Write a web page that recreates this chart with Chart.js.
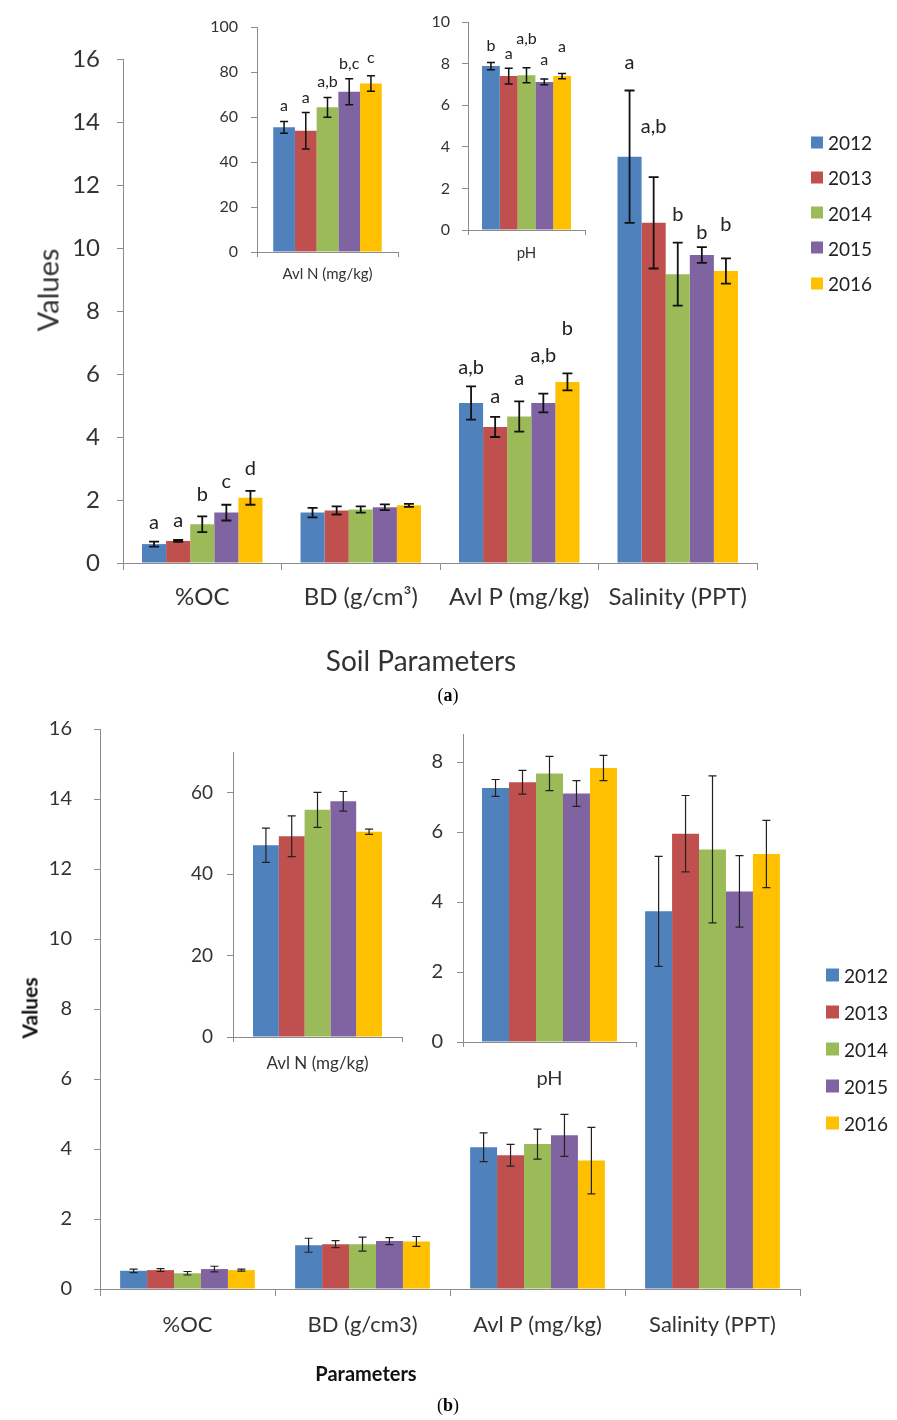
<!DOCTYPE html>
<html>
<head>
<meta charset="utf-8">
<script src="https://cdn.jsdelivr.net/npm/chart.js@4.4.0/dist/chart.umd.min.js"></script>
<style>
  html, body { margin: 0; padding: 0; background: #fff; }
  #page { position: relative; width: 897px; height: 1420px; overflow: hidden;
          font-family: Lato, "Open Sans", sans-serif; color: #333; }
  canvas { position: absolute; }
  .t { position: absolute; white-space: nowrap; transform: translate(-50%, -50%); }
  .rot { transform: translate(-50%, -50%) rotate(-90deg); }
  .cap { font-family: "Liberation Serif", serif; font-size: 18px; color: #000; }
  .leg { position: absolute; display: flex; align-items: center; color: #222; transform: translateY(-50%); }
  .leg span { display: inline-block; }
</style>
</head>
<body>
<div id="page">
  <canvas id="aMain"></canvas>
  <canvas id="aN"></canvas>
  <canvas id="aPh"></canvas>
  <canvas id="bMain"></canvas>
  <canvas id="bN"></canvas>
  <canvas id="bPh"></canvas>

  <div class="t rot" style="left:47px;top:290px;font-size:29px;">Values</div>
  <div class="t" style="left:421px;top:660px;font-size:28px;">Soil Parameters</div>
  <div class="t cap" style="left:448px;top:695px;">(<b>a</b>)</div>

  <div class="t rot" style="left:29px;top:1008px;font-size:21px;font-weight:bold;color:#111;">Values</div>
  <div class="t" style="left:366px;top:1373px;font-size:20px;font-weight:bold;color:#111;">Parameters</div>
  <div class="t cap" style="left:448px;top:1405px;">(<b>b</b>)</div>

  <div id="legA"></div>
  <div id="legB"></div>
</div>

<script>
const $ = (id) => document.getElementById(id);

const YEARS = ['2012', '2013', '2014', '2015', '2016'];
const YEAR_COLORS = ['#4F81BD', '#C0504D', '#9BBB59', '#8064A2', '#FFC000'];

// panel (a), main chart — rows are years, columns are categories
const A_CATS = ['%OC', 'BD (g/cm³)', 'Avl P (mg/kg)', 'Salinity (PPT)'];
const A_VALUES = [
  [0.60, 1.60, 5.08, 12.90],
  [0.70, 1.67, 4.32, 10.80],
  [1.23, 1.70, 4.65, 9.17],
  [1.60, 1.77, 5.08, 9.78],
  [2.07, 1.83, 5.75, 9.27],
];
const A_ERRORS = [
  [0.08, 0.15, 0.53, 2.10],
  [0.03, 0.13, 0.32, 1.45],
  [0.25, 0.10, 0.48, 1.00],
  [0.25, 0.09, 0.30, 0.25],
  [0.22, 0.05, 0.27, 0.40],
];
const A_LETTERS = [
  ['a', '', 'a,b', 'a'],
  ['a', '', 'a', 'a,b'],
  ['b', '', 'a', 'b'],
  ['c', '', 'a,b', 'b'],
  ['d', '', 'b', 'b'],
];
// height (in axis units) at which each letter sits
const A_LETTER_AT = [
  [1.28, 0, 6.19, 15.88],
  [1.36, 0, 5.27, 13.87],
  [2.16, 0, 5.87, 11.05],
  [2.58, 0, 6.60, 10.49],
  [3.00, 0, 7.43, 10.75],
];

// panel (a), insets
const A_N_VALUES = [55.4, 53.9, 64.3, 71.2, 74.9];
const A_N_ERRORS = [2.6, 8.1, 4.4, 5.8, 3.4];
const A_N_LETTERS = ['a', 'a', 'a,b', 'b,c', 'c'];
const A_N_LETTER_AT = [64.8, 68.7, 75.6, 83.5, 86.4];

const A_PH_VALUES = [7.88, 7.40, 7.44, 7.12, 7.40];
const A_PH_ERRORS = [0.17, 0.38, 0.36, 0.14, 0.13];
const A_PH_LETTERS = ['b', 'a', 'a,b', 'a', 'a'];
const A_PH_LETTER_AT = [8.85, 8.49, 9.20, 8.17, 8.81];

// panel (b), main chart
const B_CATS = ['%OC', 'BD (g/cm3)', 'Avl P (mg/kg)', 'Salinity (PPT)'];
const B_VALUES = [
  [0.52, 1.25, 4.05, 10.79],
  [0.54, 1.28, 3.82, 13.01],
  [0.45, 1.28, 4.14, 12.56],
  [0.57, 1.37, 4.39, 11.36],
  [0.54, 1.36, 3.67, 12.43],
];
const B_ERRORS = [
  [0.05, 0.20, 0.41, 1.57],
  [0.04, 0.10, 0.31, 1.09],
  [0.05, 0.20, 0.43, 2.10],
  [0.08, 0.10, 0.60, 1.02],
  [0.03, 0.14, 0.95, 0.96],
];

// panel (b), insets
const B_N_VALUES = [47.1, 49.3, 55.8, 57.9, 50.4];
const B_N_ERRORS = [4.2, 5.0, 4.3, 2.4, 0.65];
const B_PH_VALUES = [7.26, 7.42, 7.67, 7.10, 7.83];
const B_PH_ERRORS = [0.24, 0.34, 0.49, 0.37, 0.36];

const AXIS = '#8c8c8c';
const TEXT = '#333';
const FONT = 'Lato, "Open Sans", sans-serif';

const errorBars = {
  id: 'errorBars',
  afterDatasetsDraw(chart, args, opts) {
    const { ctx } = chart;
    const y = chart.scales.y;
    chart.data.datasets.forEach((ds, i) => {
      const meta = chart.getDatasetMeta(i);
      meta.data.forEach((bar, j) => {
        const v = ds.data[j];
        const e = ds.err[j];
        const top = y.getPixelForValue(v + e);
        const bot = y.getPixelForValue(v - e);
        ctx.save();
        ctx.strokeStyle = opts.color;
        ctx.lineWidth = opts.width;
        ctx.beginPath();
        ctx.moveTo(bar.x, top);
        ctx.lineTo(bar.x, bot);
        ctx.moveTo(bar.x - opts.cap, top);
        ctx.lineTo(bar.x + opts.cap, top);
        ctx.moveTo(bar.x - opts.cap, bot);
        ctx.lineTo(bar.x + opts.cap, bot);
        ctx.stroke();
        if (ds.letters && ds.letters[j]) {
          ctx.fillStyle = '#222';
          ctx.font = `${opts.letterSize}px ${FONT}`;
          ctx.textAlign = 'center';
          ctx.textBaseline = 'middle';
          ctx.fillText(ds.letters[j], bar.x, y.getPixelForValue(ds.letterAt[j]));
        }
        ctx.restore();
      });
    });
  },
};

function barChart(id, o) {
  const canvas = $(id);
  canvas.width = o.w;
  canvas.height = o.h;
  canvas.style.left = o.x + 'px';
  canvas.style.top = o.y + 'px';

  const datasets = YEARS.map((yr, i) => ({
    label: yr,
    data: o.values[i],
    err: o.errors[i],
    letters: o.letters ? o.letters[i] : null,
    letterAt: o.letterAt ? o.letterAt[i] : null,
    backgroundColor: YEAR_COLORS[i],
    borderWidth: 0,
    categoryPercentage: o.catPct,
    barPercentage: 1,
  }));

  // the axis may run a little past its last labelled step: hide that tick
  const onStep = (v) => Math.abs(v / o.step - Math.round(v / o.step)) < 1e-6;

  return new Chart(canvas, {
    type: 'bar',
    data: { labels: o.labels, datasets },
    options: {
      responsive: false,
      animation: false,
      devicePixelRatio: 1,
      layout: { padding: { top: o.padTop, right: o.padRight, left: 0, bottom: 0 } },
      plugins: {
        legend: { display: false },
        tooltip: { enabled: false },
        errorBars: { color: o.errColor || '#111', width: o.errWidth, cap: o.cap, letterSize: o.letterSize || 15 },
      },
      scales: {
        x: {
          grid: { drawOnChartArea: false, drawTicks: true, tickLength: o.xTick, color: AXIS, offset: true },
          border: { color: AXIS, width: 1 },
          ticks: {
            font: { family: FONT, size: o.xFont },
            color: TEXT,
            padding: o.xPad,
            maxRotation: 0,
            autoSkip: false,
          },
          afterFit: (s) => { s.height = o.xH; },
        },
        y: {
          min: 0,
          max: o.max,
          grid: {
            drawOnChartArea: false,
            drawTicks: true,
            tickLength: 6,
            color: (c) => (c.tick && !onStep(c.tick.value) ? 'rgba(0,0,0,0)' : AXIS),
          },
          border: { color: AXIS, width: 1 },
          ticks: {
            stepSize: o.step,
            autoSkip: false,
            font: { family: FONT, size: o.yFont },
            color: TEXT,
            padding: o.yPad,
            callback: (v) => (onStep(v) ? v : ''),
          },
          afterFit: (s) => {
            s.width = o.yW;
            s.paddingTop = 0;
            s.paddingBottom = 0;
          },
        },
      },
    },
    plugins: [errorBars],
  });
}

const one = (arr) => arr.map((v) => [v]);

barChart('aMain', {
  x: 0, y: 0, w: 897, h: 690,
  labels: A_CATS, values: A_VALUES, errors: A_ERRORS,
  letters: A_LETTERS, letterAt: A_LETTER_AT, letterSize: 20,
  padTop: 59, padRight: 140, yW: 123, xH: 127,
  max: 16, step: 2, xFont: 24, yFont: 24, xTick: 7, xPad: 13, yPad: 17,
  catPct: 0.76, errWidth: 1.8, cap: 5,
});

barChart('aN', {
  x: 190, y: 0, w: 230, h: 300,
  labels: ['Avl N (mg/kg)'], values: one(A_N_VALUES), errors: one(A_N_ERRORS),
  letters: one(A_N_LETTERS), letterAt: one(A_N_LETTER_AT), letterSize: 16,
  padTop: 27, padRight: 22, yW: 67, xH: 48,
  max: 100, step: 20, xFont: 15, yFont: 16, xTick: 5, xPad: 8, yPad: 13,
  catPct: 0.77, errWidth: 1.5, cap: 4,
});

barChart('aPh', {
  x: 400, y: 0, w: 200, h: 290,
  labels: ['pH'], values: one(A_PH_VALUES), errors: one(A_PH_ERRORS),
  letters: one(A_PH_LETTERS), letterAt: one(A_PH_LETTER_AT), letterSize: 16,
  padTop: 22, padRight: 15, yW: 68, xH: 60,
  max: 10, step: 2, xFont: 15, yFont: 16, xTick: 5, xPad: 9, yPad: 12,
  catPct: 0.76, errWidth: 1.5, cap: 4,
});

barChart('bMain', {
  x: 0, y: 700, w: 897, h: 700,
  labels: B_CATS, values: B_VALUES, errors: B_ERRORS,
  padTop: 29, padRight: 97, yW: 100, xH: 111,
  max: 16, step: 2, xFont: 22, yFont: 20, xTick: 7, xPad: 16, yPad: 22,
  catPct: 0.77, errWidth: 1.2, cap: 4, errColor: '#222',
});

barChart('bN', {
  x: 150, y: 700, w: 270, h: 400,
  labels: ['Avl N (mg/kg)'], values: one(B_N_VALUES), errors: one(B_N_ERRORS),
  padTop: 52, padRight: 18, yW: 83, xH: 63,
  max: 70, step: 20, xFont: 17, yFont: 19, xTick: 5, xPad: 11, yPad: 14,
  catPct: 0.763, errWidth: 1.2, cap: 4, errColor: '#222',
});

barChart('bPh', {
  x: 400, y: 700, w: 250, h: 400,
  labels: ['pH'], values: one(B_PH_VALUES), errors: one(B_PH_ERRORS),
  padTop: 34, padRight: 14, yW: 63, xH: 58,
  max: 8.8, step: 2, xFont: 20, yFont: 20, xTick: 5, xPad: 20, yPad: 14,
  catPct: 0.78, errWidth: 1.2, cap: 4, errColor: '#222',
});

function legend(id, x, y0, gap, box, fontSize) {
  const el = $(id);
  el.innerHTML = YEARS.map((yr, i) =>
    `<div class="leg" style="left:${x}px;top:${y0 + i * gap}px;font-size:${fontSize}px;">` +
    `<span style="width:${box}px;height:${box}px;background:${YEAR_COLORS[i]};margin-right:5px;"></span>` +
    `<span>${yr}</span></div>`,
  ).join('');
}

legend('legA', 811, 142, 35.3, 12, 19);
legend('legB', 826, 975, 37, 13, 19);
</script>
</body>
</html>
